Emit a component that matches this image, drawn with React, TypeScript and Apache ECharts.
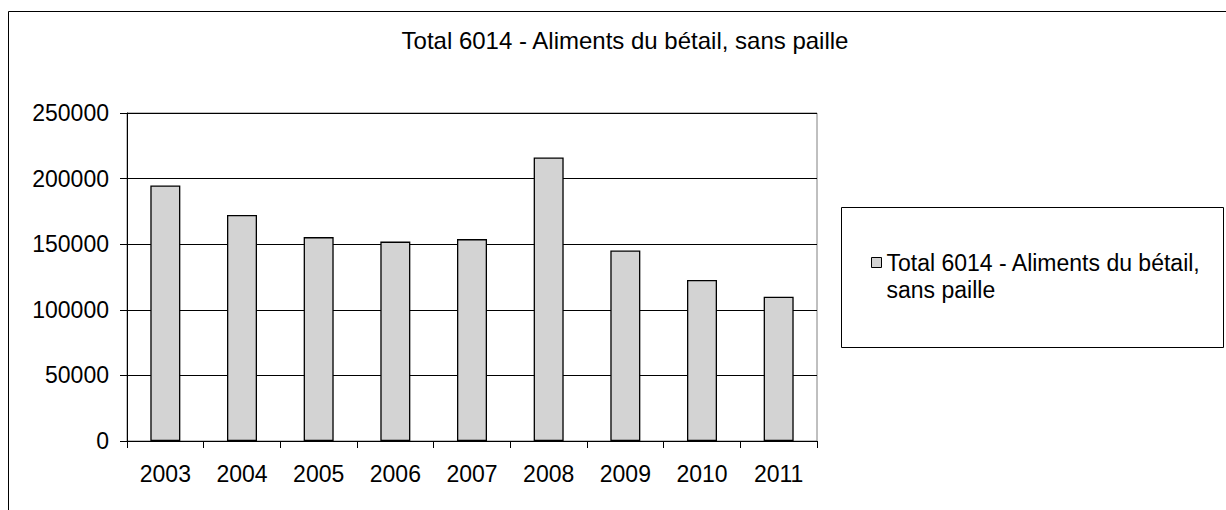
import React, { useEffect, useRef } from "react";
import * as echarts from "echarts";

const TITLE = "Total 6014 - Aliments du bétail, sans paille";
const SERIES_NAME = "Total 6014 - Aliments du bétail, sans paille";
const LEGEND_LABEL = "\nTotal 6014 - Aliments du bétail,\nsans paille";
const years = ["2003", "2004", "2005", "2006", "2007", "2008", "2009", "2010", "2011"];
const values = [194800, 172200, 155400, 152000, 153900, 216100, 145200, 122800, 109900];
const Y_MIN = 0;
const Y_MAX = 250000;
const Y_STEP = 50000;

const FONT = "'Liberation Sans', Arial, sans-serif";

export default function App() {
  const ref = useRef<HTMLDivElement>(null);
  useEffect(() => {
    if (!ref.current) return;
    const chart = echarts.init(ref.current, null, { renderer: "svg" });
    chart.setOption({
      animation: false,
      backgroundColor: "#ffffff",
      textStyle: { fontFamily: FONT, color: "#000" },
      title: {
        text: TITLE,
        left: 625,
        top: 28,
        padding: 0,
        textAlign: "center",
        textVerticalAlign: "top",
        textStyle: { fontSize: 24, fontWeight: "normal", color: "#000", fontFamily: FONT },
      },
      grid: {
        left: 127,
        top: 113,
        right: 409,
        bottom: 69,
        show: true,
        borderColor: "#808080",
        borderWidth: 1,
        backgroundColor: "transparent",
        containLabel: false,
      },
      legend: {
        orient: "vertical",
        left: 871,
        top: 222,
        padding: 0,
        icon: "rect",
        itemWidth: 10,
        itemHeight: 10,
        itemGap: 8,
        formatter: () => LEGEND_LABEL,
        itemStyle: { color: "#d3d3d3", borderColor: "#000", borderWidth: 1 },
        textStyle: {
          fontSize: 23,
          lineHeight: 27,
          color: "#000",
          fontFamily: FONT,
        },
        data: [SERIES_NAME],
      },
      xAxis: {
        type: "category",
        data: years,
        boundaryGap: true,
        axisLine: { show: true, lineStyle: { color: "#000", width: 1 } },
        axisTick: { show: true, length: 7, alignWithLabel: false, lineStyle: { color: "#000" } },
        axisLabel: { fontSize: 23, color: "#000", margin: 21, fontFamily: FONT, interval: 0 },
        splitLine: { show: false },
      },
      yAxis: {
        type: "value",
        min: Y_MIN,
        max: Y_MAX,
        interval: Y_STEP,
        axisLine: { show: true, lineStyle: { color: "#000", width: 1 } },
        axisTick: { show: true, length: 7, lineStyle: { color: "#000" } },
        axisLabel: {
          fontSize: 23,
          color: "#000",
          margin: 18,
          fontFamily: FONT,
          formatter: (v: number) => String(v),
        },
        splitLine: { show: true, lineStyle: { color: "#000", width: 1 } },
      },
      series: [
        {
          name: SERIES_NAME,
          type: "bar",
          data: values,
          barWidth: 30,
          itemStyle: { color: "#d3d3d3", borderColor: "#000", borderWidth: 1.3 },
        },
      ],
      graphic: [
        {
          type: "rect",
          shape: { x: 8.5, y: 11.5, width: 1300, height: 600 },
          style: { fill: "none", stroke: "#000", lineWidth: 1 },
          silent: true,
          z: 100,
        },
        {
          type: "rect",
          shape: { x: 841.5, y: 207.5, width: 382, height: 140 },
          style: { fill: "none", stroke: "#000", lineWidth: 1 },
          silent: true,
          z: 100,
        },
      ],
    });
    return () => chart.dispose();
  }, []);
  return (
    <div
      ref={ref}
      style={{ position: "absolute", left: 0, top: 0, width: 1226, height: 510 }}
    />
  );
}
